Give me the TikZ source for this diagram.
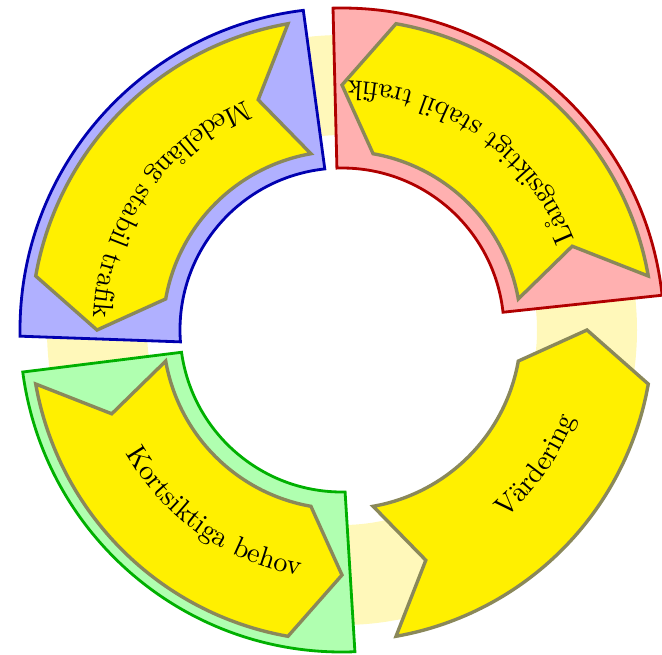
\documentclass[tikz,border=0pt]{standalone}
\usepackage{fontspec}
\usetikzlibrary{decorations.text}
\definecolor{ringyellow}{RGB}{255,248,186}
\definecolor{arrowfill}{RGB}{255,240,0}
\definecolor{arrowline}{RGB}{138,136,90}
\definecolor{bluefill}{RGB}{176,176,255}
\definecolor{blueline}{RGB}{0,0,176}
\definecolor{redfill}{RGB}{255,176,176}
\definecolor{redline}{RGB}{176,0,0}
\definecolor{greenfill}{RGB}{176,255,176}
\definecolor{greenline}{RGB}{0,176,0}
\tikzset{
  sectorbox/.style={line width=1pt, line join=miter},
  cyclearrow/.style={fill=arrowfill, draw=arrowline, line width=1.2pt, line join=miter},
  arclabel/.style={decorate, decoration={text along path, text align=center, text={#1}}}
}
\newcommand\mycyclearrow[2]{%
  \path[cyclearrow] ({#1+10}:311) arc[start angle={#1+10}, end angle={#1+80}, radius=311]
    -- ({#1+90}:245) -- ({#1+80}:179) arc[start angle={#1+80}, end angle={#1+10}, radius=179]
    -- ({#1+20}:245) -- cycle;
  \path[arclabel={#2}] ({#1+20}:249) arc[start angle={#1+20}, end angle={#1+90}, radius=249];
}
\begin{document}
\begin{tikzpicture}[x=0.0125cm, y=0.0125cm]
\useasboundingbox (-342,-324) rectangle (320,330);
% pale ring
\fill[ringyellow, even odd rule] (0,0) circle[radius=295] (0,0) circle[radius=195];
% sectors
\path[sectorbox, fill=redfill, draw=redline] (6.2:322) arc[start angle=6.2, end angle=91.6, radius=322]
  -- (91.8:162) arc[start angle=91.8, end angle=6.3, radius=162] -- cycle;
\path[sectorbox, fill=bluefill, draw=blueline] (96.9:322) arc[start angle=96.9, end angle=181.1, radius=322]
  -- (184.2:162) arc[start angle=184.2, end angle=96.1, radius=162] -- cycle;
\path[sectorbox, fill=greenfill, draw=greenline] (187.5:322) arc[start angle=187.5, end angle=272.3, radius=322]
  -- (271.1:162) arc[start angle=271.1, end angle=187.9, radius=162] -- cycle;
% arrows
\mycyclearrow{0}{Långsiktigt stabil trafik}
\mycyclearrow{90}{Medellång stabil trafik}
\mycyclearrow{180}{Kortsiktiga behov}
\mycyclearrow{270}{Värdering}
\end{tikzpicture}
\end{document}
